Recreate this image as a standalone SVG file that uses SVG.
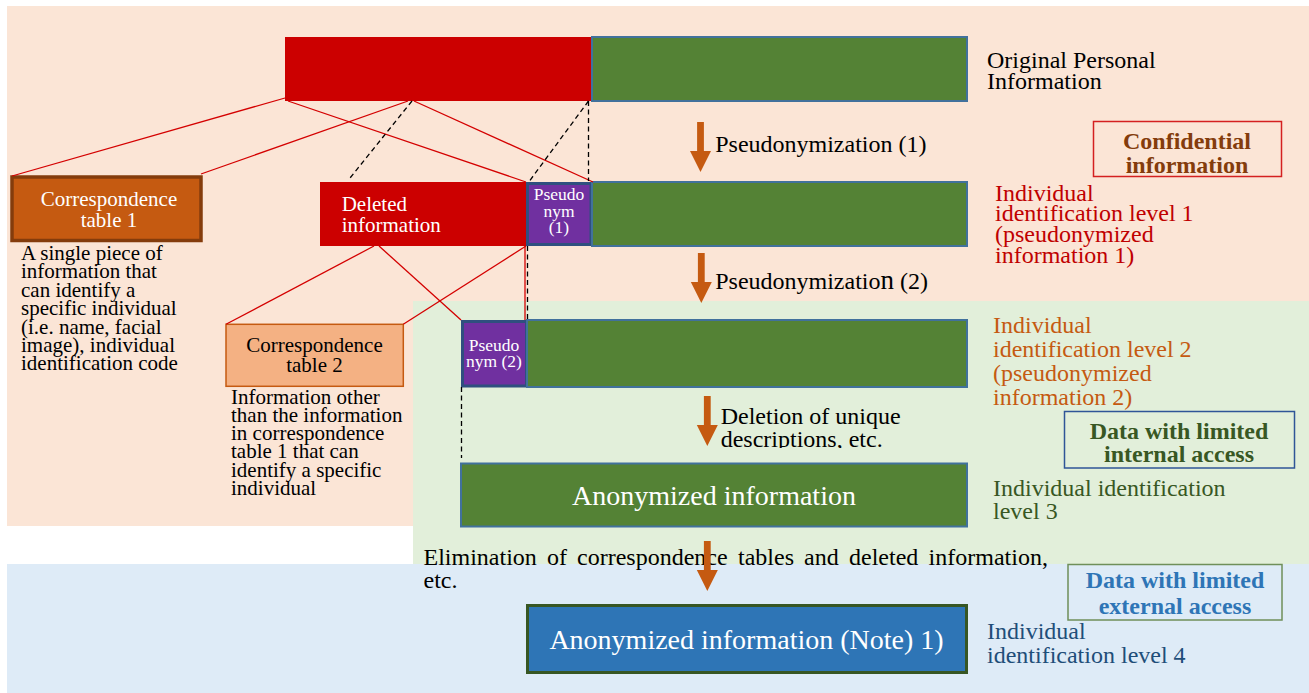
<svg xmlns="http://www.w3.org/2000/svg" width="1309" height="693" viewBox="0 0 1309 693">
  <style>
    text { font-family: "Liberation Serif", "Times New Roman", serif; }
    .bar-red { fill: #cc0000; }
    .bar-green { fill: #548235; stroke: #41719c; stroke-width: 2; }
    .pseudo { fill: #7030a0; stroke: #2f4f7f; stroke-width: 3; }
    .link { stroke: #d40000; stroke-width: 1.3; fill: none; }
    .dash { stroke: #000; stroke-width: 1.3; stroke-dasharray: 5 3.5; fill: none; }
    .wt { fill: #fff; }
    .bk { fill: #000; }
    .t21 { font-size: 21px; }
    .t24 { font-size: 24px; }
    .t17 { font-size: 17.5px; }
    .t28 { font-size: 28px; }
    .bold { font-weight: bold; }
  </style>
  <defs>
    <g id="down-arrow">
      <rect x="-3.4" y="0" width="6.8" height="30" fill="#c55a11"/>
      <polygon points="-10.5,29 10.5,29 0,50" fill="#c55a11"/>
    </g>
    <clipPath id="deletion-clip">
      <rect x="700" y="380" width="300" height="68"/>
    </clipPath>
  </defs>

  <!-- zone backgrounds -->
  <g id="zones">
    <rect x="0" y="0" width="1309" height="693" fill="#ffffff"/>
    <rect x="7" y="6" width="1302" height="520" fill="#fbe5d6"/>
    <rect x="413" y="301" width="896" height="263" fill="#e2efda"/>
    <rect x="7" y="564" width="1302" height="129" fill="#deebf7"/>
  </g>

  <!-- original personal information -->
  <g id="original">
    <rect class="bar-red" x="285" y="37" width="306" height="64"/>
    <rect class="bar-green" x="592" y="37" width="375" height="64"/>
    <text class="t24 bk" x="987" y="68.3">Original Personal</text>
    <text class="t24 bk" x="987" y="89.3">Information</text>
  </g>

  <!-- correspondence table 1 -->
  <g id="corr-table-1">
    <rect x="12" y="177" width="189" height="63.5" fill="#c55a11" stroke="#843c0c" stroke-width="3.5"/>
    <text class="t21 wt" x="109" y="206" text-anchor="middle">Correspondence</text>
    <text class="t21 wt" x="109" y="226.7" text-anchor="middle">table 1</text>
    <text class="t21 bk" x="21">
      <tspan x="21" y="260">A single piece of</tspan>
      <tspan x="21" y="278.4">information that</tspan>
      <tspan x="21" y="296.8">can identify a</tspan>
      <tspan x="21" y="315.2">specific individual</tspan>
      <tspan x="21" y="333.6">(i.e. name, facial</tspan>
      <tspan x="21" y="352">image), individual</tspan>
      <tspan x="21" y="370.4">identification code</tspan>
    </text>
  </g>

  <!-- level 1: deleted information + pseudonym (1) -->
  <g id="level-1">
    <rect class="bar-red" x="320" y="182" width="206" height="64"/>
    <text class="t21 wt" x="341.7" y="210.7">Deleted</text>
    <text class="t21 wt" x="341.7" y="231.7">information</text>
    <rect class="pseudo" x="527.5" y="183.5" width="63.5" height="61"/>
    <text class="t17 wt" x="559" y="200" text-anchor="middle">Pseudo</text>
    <text class="t17 wt" x="559" y="216.7" text-anchor="middle">nym</text>
    <text class="t17 wt" x="559" y="233.3" text-anchor="middle">(1)</text>
    <rect class="bar-green" x="592" y="182" width="375" height="64"/>
    <text class="t24" x="995" y="200.7" fill="#c00000">Individual</text>
    <text class="t24" x="995" y="221.2" fill="#c00000">identification level 1</text>
    <text class="t24" x="995" y="241.8" fill="#c00000">(pseudonymized</text>
    <text class="t24" x="995" y="262.5" fill="#c00000">information 1)</text>
  </g>

  <!-- confidential information tag -->
  <g id="tag-confidential">
    <rect x="1093.5" y="121.5" width="188" height="55" fill="none" stroke="#d42020" stroke-width="1.5"/>
    <text class="t24 bold" x="1187" y="149.3" text-anchor="middle" fill="#843c0c">Confidential</text>
    <text class="t24 bold" x="1187" y="172.7" text-anchor="middle" fill="#843c0c">information</text>
  </g>

  <!-- correspondence table 2 -->
  <g id="corr-table-2">
    <rect x="226" y="324.3" width="177.3" height="62" fill="#f4b183" stroke="#c55a11" stroke-width="1.5"/>
    <text class="t21 bk" x="314.5" y="351.7" text-anchor="middle">Correspondence</text>
    <text class="t21 bk" x="314.5" y="372.3" text-anchor="middle">table 2</text>
    <text class="t21 bk">
      <tspan x="231" y="403.5">Information other</tspan>
      <tspan x="231" y="421.8">than the information</tspan>
      <tspan x="231" y="440.1">in correspondence</tspan>
      <tspan x="231" y="458.4">table 1 that can</tspan>
      <tspan x="231" y="476.7">identify a specific</tspan>
      <tspan x="231" y="495">individual</tspan>
    </text>
  </g>

  <!-- level 2: pseudonym (2) -->
  <g id="level-2">
    <rect class="pseudo" x="462.5" y="321.5" width="64" height="64.5"/>
    <text class="t17 wt" x="494" y="350.7" text-anchor="middle">Pseudo</text>
    <text class="t17 wt" x="494" y="366.7" text-anchor="middle">nym (2)</text>
    <rect class="bar-green" x="527" y="320" width="440" height="67"/>
    <text class="t24" x="993" y="333.3" fill="#c55a11">Individual</text>
    <text class="t24" x="993" y="357" fill="#c55a11">identification level 2</text>
    <text class="t24" x="993" y="380.8" fill="#c55a11">(pseudonymized</text>
    <text class="t24" x="993" y="405" fill="#c55a11">information 2)</text>
  </g>

  <!-- internal access tag -->
  <g id="tag-internal">
    <rect x="1064.5" y="411.5" width="230" height="56.5" fill="none" stroke="#2f5597" stroke-width="1.5"/>
    <text class="t24 bold" x="1179" y="439" text-anchor="middle" fill="#385723" font-size="23">Data with limited</text>
    <text class="t24 bold" x="1179" y="462.3" text-anchor="middle" fill="#385723" font-size="23">internal access</text>
  </g>

  <!-- level 3: anonymized information -->
  <g id="level-3">
    <rect class="bar-green" x="461" y="463.5" width="506" height="63"/>
    <text class="t28 wt" x="714" y="505" text-anchor="middle">Anonymized information</text>
    <text class="t24" x="993" y="496" fill="#385723">Individual identification</text>
    <text class="t24" x="993" y="519.3" fill="#385723">level 3</text>
  </g>

  <!-- step labels -->
  <g id="step-labels">
    <text class="t24 bk" x="715.2" y="151.5">Pseudonymization (1)</text>
    <text class="t24 bk" x="715.2" y="288.5">Pseudonymizatio<tspan font-size="27">n</tspan> (2)</text>
    <g clip-path="url(#deletion-clip)">
      <text class="t24 bk" x="720.7" y="424">Deletion of unique</text>
      <text class="t24 bk" x="720.7" y="446.5">descriptions, etc.</text>
    </g>
    <text class="t24 bk" y="564.5">
      <tspan x="423.5">Elimination</tspan>
      <tspan x="547">of</tspan>
      <tspan x="577">correspondence</tspan>
      <tspan x="738">tables</tspan>
      <tspan x="804">and</tspan>
      <tspan x="849">deleted</tspan>
      <tspan x="928.6">information,</tspan>
    </text>
    <text class="t24 bk" x="423.5" y="588.3">etc.</text>
  </g>

  <!-- external access tag -->
  <g id="tag-external">
    <rect x="1068" y="564.5" width="214" height="55.5" fill="none" stroke="#6f8f5a" stroke-width="1.5"/>
    <text class="t24 bold" x="1175" y="588.3" text-anchor="middle" fill="#2e75b6" font-size="23">Data with limited</text>
    <text class="t24 bold" x="1175" y="614.3" text-anchor="middle" fill="#2e75b6" font-size="23">external access</text>
  </g>

  <!-- level 4: anonymized information (note 1) -->
  <g id="level-4">
    <rect x="527.5" y="605.5" width="439" height="67" fill="#2e75b6" stroke="#375623" stroke-width="3"/>
    <text class="t28 wt" x="746.5" y="649.3" text-anchor="middle">Anonymized information (Note) 1)</text>
    <text class="t24" x="987" y="639.3" fill="#1f4e79">Individual</text>
    <text class="t24" x="987" y="663.3" fill="#1f4e79">identification level 4</text>
  </g>

  <!-- connectors -->
  <g id="connectors">
    <line class="link" x1="285" y1="98" x2="12" y2="176"/>
    <line class="link" x1="408" y1="101" x2="201" y2="174"/>
    <line class="link" x1="288" y1="101" x2="526" y2="182"/>
    <line class="link" x1="414" y1="101" x2="593" y2="182"/>
    <line class="dash" x1="412" y1="101" x2="350" y2="178"/>
    <line class="dash" x1="588.5" y1="101" x2="529.5" y2="181"/>
    <line class="dash" x1="588.5" y1="101" x2="588.5" y2="181"/>
    <line class="link" x1="374" y1="246" x2="226" y2="324.3"/>
    <line class="link" x1="379" y1="246" x2="461" y2="320"/>
    <line class="link" x1="526" y1="246" x2="403.3" y2="324.3"/>
    <line class="link" x1="525" y1="246" x2="525" y2="320"/>
    <line class="dash" x1="527.5" y1="246" x2="527.5" y2="320"/>
    <line class="dash" x1="461.5" y1="387" x2="461.5" y2="458"/>
    <use href="#down-arrow" x="700.5" y="122"/>
    <use href="#down-arrow" x="701.3" y="253"/>
    <use href="#down-arrow" x="707.3" y="396"/>
    <use href="#down-arrow" x="707.3" y="541"/>
  </g>
</svg>
